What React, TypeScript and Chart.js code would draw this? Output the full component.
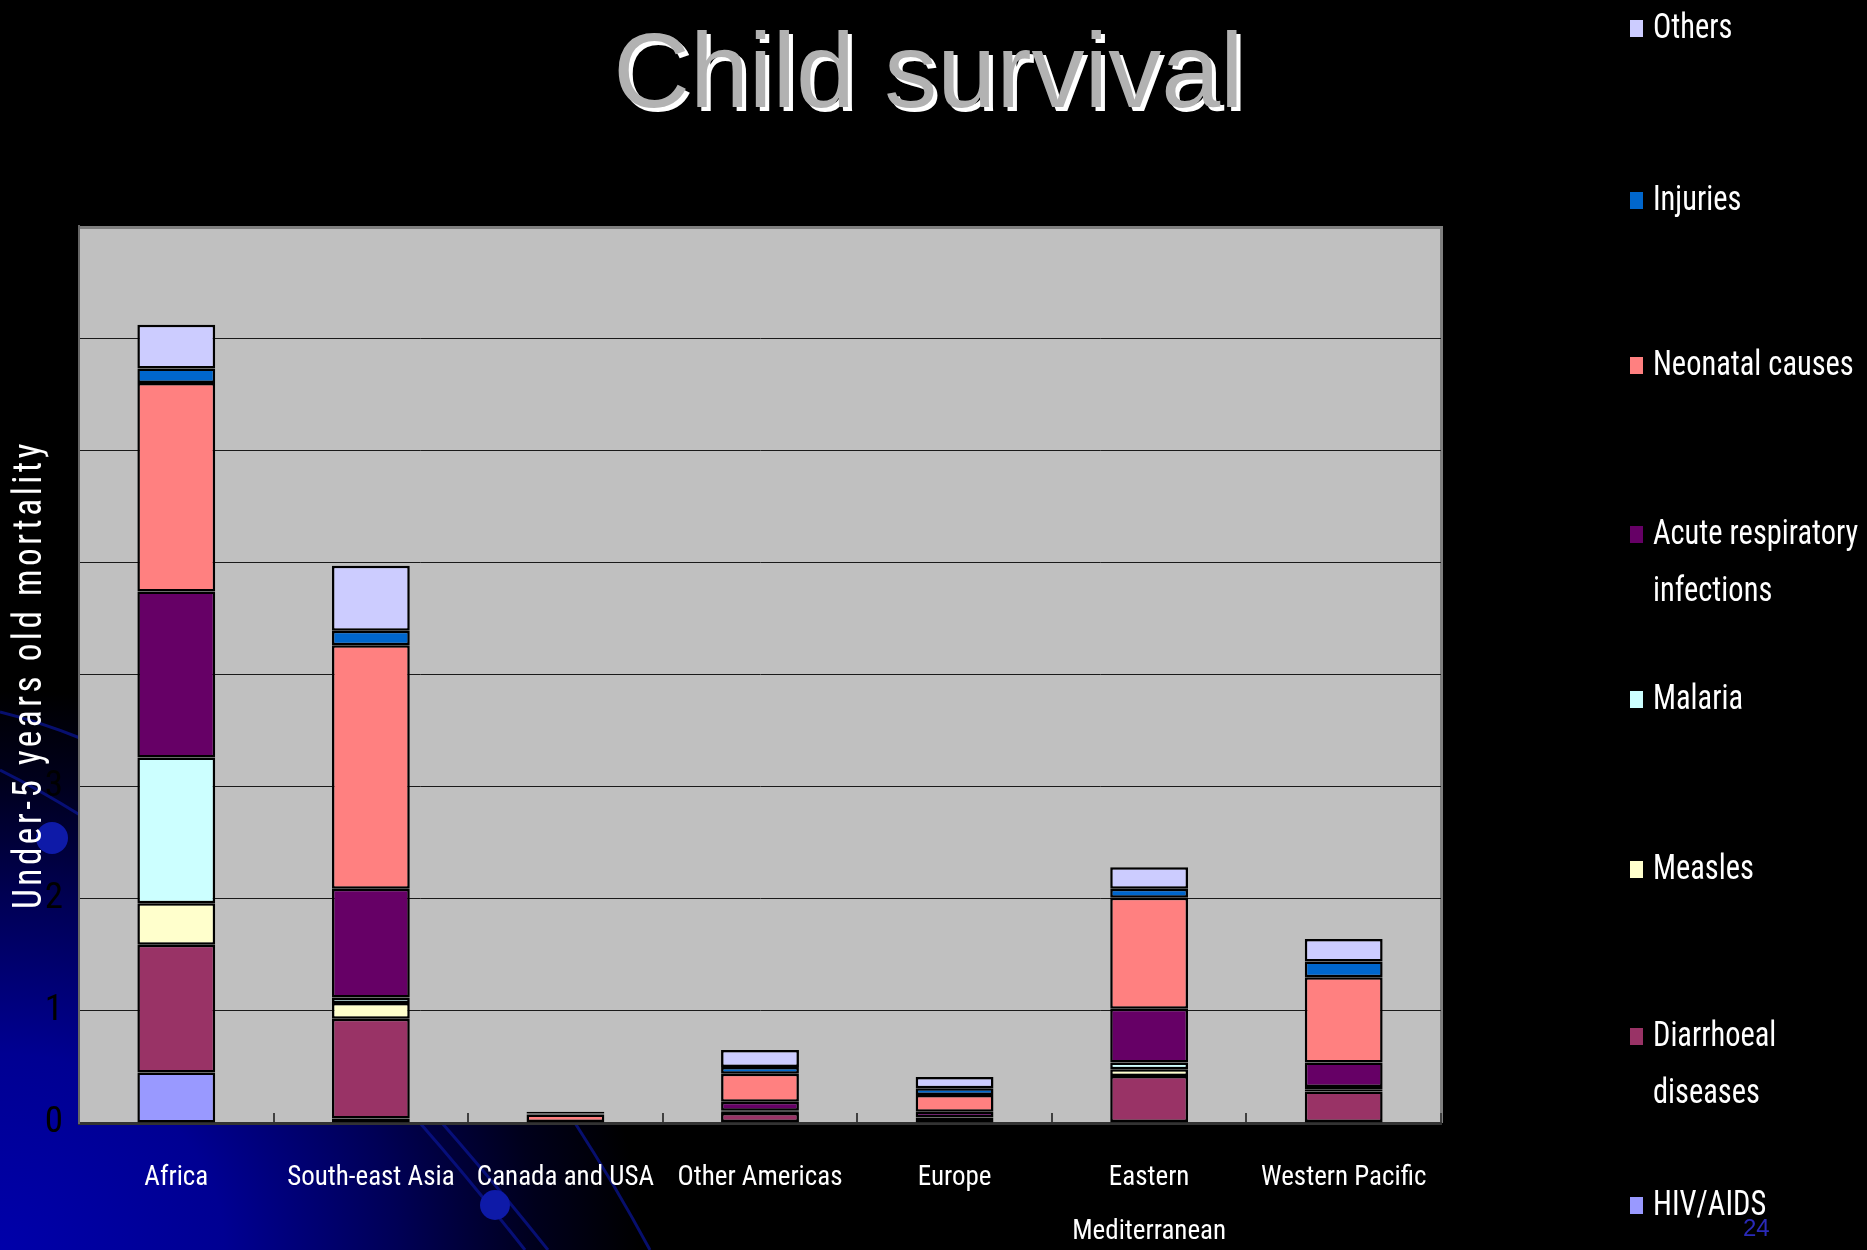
import React, { useEffect, useRef } from 'react';
import { Chart, registerables } from 'chart.js';

Chart.register(...registerables);

// ---------- data ----------
const categories: (string | string[])[] = [
  'Africa',
  'South-east Asia',
  'Canada and USA',
  'Other Americas',
  'Europe',
  ['Eastern', 'Mediterranean'],
  'Western Pacific',
];

const seriesNames = [
  'HIV/AIDS',
  'Diarrhoeal diseases',
  'Measles',
  'Malaria',
  'Acute respiratory infections',
  'Neonatal causes',
  'Injuries',
  'Others',
];

// legend text broken into the lines shown in the legend
const legendLines: Record<string, string[]> = {
  'Acute respiratory infections': ['Acute respiratory', 'infections'],
  'Diarrhoeal diseases': ['Diarrhoeal', 'diseases'],
};

const seriesColors = ['#9999FF', '#993366', '#FFFFCC', '#CCFFFF', '#660066', '#FF8080', '#0066CC', '#CCCCFF'];

const hivAids = [0.45, 0.04, 0.0, 0.01, 0.005, 0.01, 0.01];
const diarrhoeal = [1.14, 0.89, 0.005, 0.08, 0.04, 0.41, 0.27];
const measles = [0.37, 0.14, 0.0, 0.01, 0.005, 0.06, 0.02];
const malaria = [1.3, 0.05, 0.0, 0.01, 0.0, 0.06, 0.02];
const respiratory = [1.48, 0.97, 0.005, 0.08, 0.05, 0.48, 0.22];
const neonatal = [1.86, 2.17, 0.065, 0.25, 0.15, 0.99, 0.76];
const injuries = [0.13, 0.13, 0.01, 0.06, 0.06, 0.08, 0.14];
const others = [0.39, 0.58, 0.015, 0.15, 0.1, 0.19, 0.2];

const seriesValues = [hivAids, diarrhoeal, measles, malaria, respiratory, neonatal, injuries, others];

const yTickValues = [0, 1, 2, 3, 4, 5, 6, 7, 8];
const yAxisTitle = 'Under-5 years old mortality';
const chartTitle = 'Child survival';
const pageNumber = '24';

// ---------- styling ----------
const NARROW = '"Roboto Condensed", "Liberation Sans Narrow", "DejaVu Sans Condensed", sans-serif';
const W = 1867;
const H = 1250;

const plotBackground = {
  id: 'plotBackground',
  beforeDraw(chart: any) {
    const { ctx, chartArea: a } = chart;
    ctx.save();
    ctx.fillStyle = '#C0C0C0';
    ctx.fillRect(a.left, a.top, a.right - a.left, a.bottom - a.top);
    ctx.strokeStyle = '#7F7F7F';
    ctx.lineWidth = 3;
    ctx.beginPath();
    ctx.moveTo(a.left, a.top + 1.5);
    ctx.lineTo(a.right + 0.5, a.top + 1.5);
    ctx.lineTo(a.right + 0.5, a.bottom);
    ctx.stroke();
    ctx.restore();
  },
};

// narrow, letter-spaced axis title (squeezed along its own length)
const spacedAxisTitle = {
  id: 'spacedAxisTitle',
  afterLayout(chart: any) {
    const s = chart.scales.y;
    if (s && !s.__spaced) {
      const orig = s.drawTitle.bind(s);
      s.drawTitle = function () {
        const c = chart.ctx as any;
        const cy = (s.top + s.bottom) / 2;
        c.save();
        c.letterSpacing = '4px';
        c.translate(0, cy);
        c.scale(1, 0.88);
        c.translate(0, -cy);
        orig();
        c.restore();
      };
      s.__spaced = true;
    }
  },
};

export default function App() {
  const canvasRef = useRef<HTMLCanvasElement | null>(null);

  useEffect(() => {
    const canvas = canvasRef.current;
    if (!canvas) return;
    const chart = new Chart(canvas, {
      type: 'bar',
      data: {
        labels: categories as any,
        datasets: seriesNames.map((name, i) => ({
          label: name,
          data: seriesValues[i],
          backgroundColor: seriesColors[i],
          borderColor: '#000000',
          borderWidth: 2.5,
          borderSkipped: false,
          barPercentage: 0.4,
          categoryPercentage: 1,
        })),
      },
      options: {
        animation: false,
        responsive: false,
        devicePixelRatio: 1,
        layout: { padding: { top: 226, right: W - 1441, left: 0, bottom: 0 } },
        plugins: {
          legend: { display: false },
          title: { display: false },
          tooltip: { enabled: false },
        },
        scales: {
          x: {
            stacked: true,
            offset: true,
            grid: {
              offset: true,
              drawOnChartArea: false,
              drawTicks: true,
              tickLength: -10,
              color: '#404040',
              lineWidth: 2,
            },
            border: { display: true, color: '#333333', width: 3 },
            ticks: {
              color: '#FFFFFF',
              font: { family: NARROW, size: 27, lineHeight: 2 },
              padding: 38,
              maxRotation: 0,
              autoSkip: false,
            },
            afterFit(scale: any) {
              scale.height = H - 1123;
            },
          },
          y: {
            stacked: true,
            min: 0,
            max: 8,
            afterBuildTicks(scale: any) {
              scale.ticks = yTickValues.map((v) => ({ value: v }));
            },
            grid: {
              drawTicks: false,
              color: (ctx: any) => (ctx.tick && (ctx.tick.value === 0 || ctx.tick.value === 8) ? 'rgba(0,0,0,0)' : '#1A1A1A'),
              lineWidth: 1,
            },
            border: { display: true, color: '#666666', width: 2 },
            ticks: {
              color: '#000000',
              font: { family: NARROW, size: 37 },
              padding: 16,
            },
            title: {
              display: true,
              text: yAxisTitle,
              color: '#FFFFFF',
              font: { family: NARROW, size: 40, lineHeight: 1.2 },
              padding: { top: 7, bottom: 0 },
            },
            afterFit(scale: any) {
              scale.width = 79;
            },
          },
        },
      },
      plugins: [plotBackground, spacedAxisTitle],
    });
    return () => chart.destroy();
  }, []);

  const legendYs = [26, 198, 363, 532, 697, 867, 1034, 1203];
  const legendOrder = seriesNames.map((n, i) => ({ name: n, color: seriesColors[i] })).reverse();

  return (
    <div
      style={{
        position: 'fixed',
        left: 0,
        top: 0,
        width: W,
        height: H,
        overflow: 'hidden',
        background:
          'radial-gradient(ellipse 640px 560px at 0% 100%, #0000AA 0%, #000092 35%, #000056 62%, #00001C 84%, #000000 100%), #000000',
      }}
    >
      <svg width={W} height={H} style={{ position: 'absolute', left: 0, top: 0 }}>
        <g fill="none" stroke="#0A1490" strokeWidth={3} opacity={0.75}>
          <path d="M0 712 Q 40 722 80 738" />
          <path d="M0 770 Q 40 790 80 815" />
          <path d="M420 1123 Q 470 1180 525 1250" />
          <path d="M442 1123 Q 492 1180 548 1250" />
          <path d="M575 1123 Q 615 1185 650 1250" />
        </g>
        <circle cx={52} cy={838} r={16} fill="#0E1AA8" />
        <circle cx={495} cy={1205} r={15} fill="#0E1AA8" />
      </svg>
      <canvas ref={canvasRef} width={W} height={H} style={{ position: 'absolute', left: 0, top: 0, width: W, height: H }} />
      <div
        style={{
          position: 'absolute',
          left: 0,
          top: 0,
          width: W - 10,
          textAlign: 'center',
          fontFamily: '"Liberation Sans", Arial, sans-serif',
          fontSize: 106,
          lineHeight: '140px',
          color: '#B2B2B2',
          textShadow: '4px 4px 0 #FFFFFF',
        }}
      >
        {chartTitle}
      </div>
      {legendOrder.map((item, i) => (
        <div key={item.name} style={{ position: 'absolute', left: 1630, top: legendYs[i] - 28, width: 236 }}>
          <div
            style={{
              position: 'absolute',
              left: 0,
              top: 22,
              width: 13,
              height: 17,
              background: item.color,
            }}
          />
          <div
            style={{
              position: 'absolute',
              left: 23,
              top: 0,
              width: 260,
              color: '#FFFFFF',
              fontFamily: NARROW,
              fontSize: 35,
              lineHeight: '57px',
              whiteSpace: 'nowrap',
              transform: 'scaleX(0.87)',
              transformOrigin: '0 0',
            }}
          >
            {(legendLines[item.name] || [item.name]).map((line) => (
              <div key={line}>{line}</div>
            ))}
          </div>
        </div>
      ))}
      <div
        style={{
          position: 'absolute',
          left: 1743,
          top: 1214,
          color: '#2A2AB8',
          fontFamily: '"Liberation Sans", Arial, sans-serif',
          fontSize: 24,
        }}
      >
        {pageNumber}
      </div>
    </div>
  );
}
